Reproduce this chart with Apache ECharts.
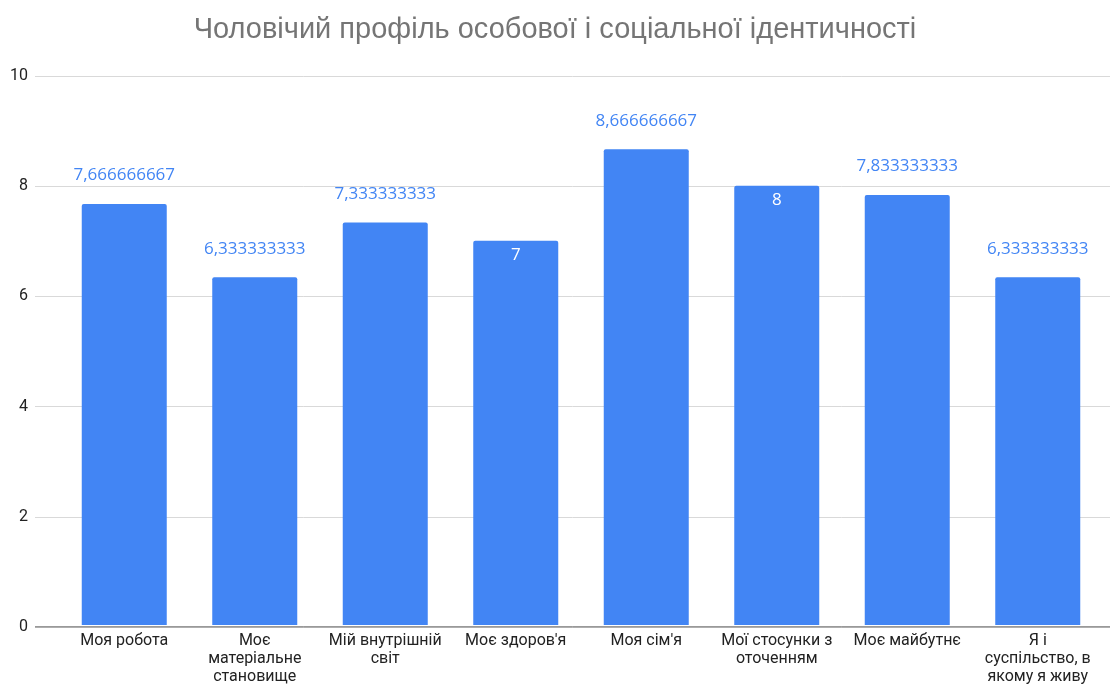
<!DOCTYPE html>
<html>
<head>
<meta charset="utf-8">
<script src="https://cdn.jsdelivr.net/npm/echarts@6/dist/echarts.min.js"></script>
<style>
  html, body { margin: 0; padding: 0; background: #fff; }
  #main { width: 1110px; height: 686px; }
</style>
</head>
<body>
<div id="main"></div>
<script>
var categories = ['Моя робота', 'Моє\nматеріальне\nстановище', 'Мій внутрішній\nсвіт', "Моє здоров'я",
  "Моя сім'я", 'Мої стосунки з\nоточенням', 'Моє майбутнє', 'Я і\nсуспільство, в\nякому я живу'];
var values = [7.666666667, 6.333333333, 7.333333333, 7, 8.666666667, 8, 7.833333333, 6.333333333];
var insideLabel = [false, false, false, true, false, true, false, false];
var yTicks = [0, 2, 4, 6, 8, 10];

var chart = echarts.init(document.getElementById('main'));

function fmt(v) {
  return String(v).replace('.', ',');
}

var barData = values.map(function (v, i) {
  var item = { value: v };
  if (insideLabel[i]) {
    item.label = { position: 'insideTop', distance: 6, color: '#ffffff' };
  }
  return item;
});

var option = {
  backgroundColor: '#ffffff',
  animation: false,
  title: {
    text: 'Чоловічий профіль особової і соціальної ідентичності',
    left: 'center',
    top: 10,
    textStyle: { color: '#757575', fontSize: 29, fontWeight: 'normal', fontFamily: 'Liberation Sans' }
  },
  grid: [
    { left: 35, right: 0, top: 76, bottom: 59 },
    { left: 59, right: 7, top: 76, bottom: 59 }
  ],
  xAxis: [
    {
      gridIndex: 0, type: 'value', min: 0, max: 1,
      axisLine: { show: false }, axisTick: { show: false },
      axisLabel: { show: false }, splitLine: { show: false }
    },
    {
      gridIndex: 1, type: 'category', data: categories,
      axisLine: { show: false }, axisTick: { show: false },
      axisLabel: { color: '#222222', fontSize: 16, fontFamily: 'Roboto', lineHeight: 18, margin: 7, interval: 0 }
    }
  ],
  yAxis: [
    {
      gridIndex: 0, type: 'value', min: 0, max: 10, interval: 2,
      axisLine: { show: false }, axisTick: { show: false },
      axisLabel: { color: '#222222', fontSize: 16, fontFamily: 'Roboto', margin: 7 },
      splitLine: { lineStyle: { color: '#d9d9d9', width: 1 } }
    },
    {
      gridIndex: 1, type: 'value', min: 0, max: 10, interval: 2,
      axisLine: { show: false }, axisTick: { show: false },
      axisLabel: { show: false }, splitLine: { show: false }
    }
  ],
  series: [
    {
      type: 'bar',
      xAxisIndex: 1,
      yAxisIndex: 1,
      data: barData,
      barWidth: 85,
      itemStyle: { color: '#4285f4', borderRadius: [2, 2, 0, 0] },
      label: {
        show: true,
        position: 'top',
        distance: 20,
        color: '#4285f4',
        fontSize: 17,
        fontFamily: 'Open Sans',
        formatter: function (p) { return fmt(p.value); }
      },
      z: 3
    },
    {
      type: 'line',
      xAxisIndex: 0,
      yAxisIndex: 0,
      data: [[0, 0], [1, 0]],
      symbol: 'none',
      lineStyle: { color: '#333333', width: 1 },
      silent: true,
      z: 4
    }
  ]
};

chart.setOption(option);
</script>
</body>
</html>
